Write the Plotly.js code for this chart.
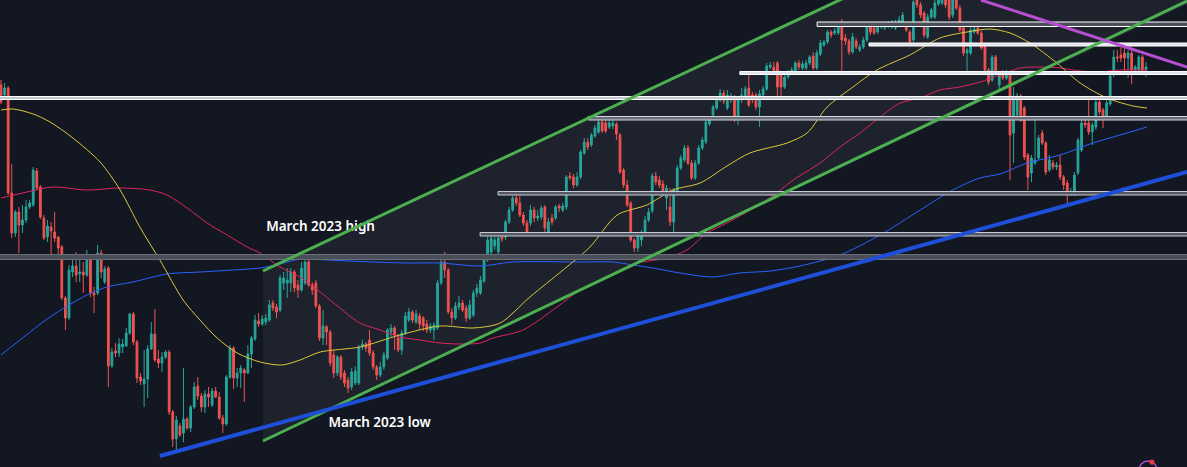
<!DOCTYPE html>
<html><head><meta charset="utf-8">
<script src="https://cdn.plot.ly/plotly-3.0.1.min.js"></script>
<style>html,body{margin:0;padding:0;background:#131722;overflow:hidden}#chart{width:1187px;height:467px}</style>
</head><body><div id="chart"></div>
<script>
// ---- candle data (bar index = position in arrays) ----
const opens = [
385,375,382,277,237,258,245,250,263,265,
299,283,252,233,243,238,233,223,172,152,
198,204,196,198,195,211,177,177,217,188,
202,104,119,117,123,124,137,156,128,93,
86,91,121,136,111,107,113,118,58,31,
44,37,51,42,63,84,74,63,76,65,
79,73,52,46,93,122,92,97,100,97,
116,131,149,146,148,150,167,163,160,187,
187,187,198,185,180,187,208,185,187,164,
132,143,138,115,97,113,97,90,83,87,
87,123,126,130,117,103,95,103,112,138,
142,132,120,137,150,158,148,154,152,146,
140,140,142,187,208,200,158,152,163,167,
162,152,155,177,177,189,210,218,224,218,
233,233,248,260,272,267,255,247,247,260,
252,253,263,238,252,252,264,260,263,294,
293,285,293,317,328,325,334,338,348,347,
343,344,346,335,300,285,267,230,222,230,
236,250,259,294,290,286,272,263,248,277,
302,310,322,307,292,307,322,328,346,355,
362,370,377,362,370,372,352,370,373,382,
375,375,363,375,381,403,403,407,396,383,
393,397,399,407,402,402,407,414,402,416,
425,428,438,437,437,443,432,429,418,429,
420,423,430,443,442,438,443,442,444,443,
442,445,448,445,438,430,470,465,457,433,
453,453,466,467,472,470,455,470,462,442,
417,417,438,442,437,423,400,390,413,385,
398,392,397,337,355,374,362,315,297,307,
312,337,327,300,307,303,305,293,287,276,
275,297,320,347,347,338,343,368,360,354,
366,395,413,415,417,412,417,400,400,413,400];
const highs = [
390,387,384,306,260,263,265,270,270,303,
302,285,255,250,248,258,234,225,174,205,
211,218,210,208,220,213,183,225,220,204,
204,122,127,132,131,142,157,158,130,97,
120,125,148,161,120,118,120,120,60,54,
47,102,53,65,88,93,77,80,83,82,
83,78,55,95,125,124,102,105,102,125,
134,155,157,155,156,170,170,166,195,198,
202,202,200,190,208,211,212,188,190,166,
160,145,140,120,115,115,100,93,102,104,
125,130,128,140,120,105,108,118,142,146,
144,136,140,158,162,160,160,157,154,150,
147,148,190,212,218,202,162,168,174,170,
165,170,180,186,194,213,234,236,236,235,
236,250,263,274,276,274,258,250,265,263,
260,265,265,252,256,265,266,267,295,298,
296,298,320,332,332,337,345,350,352,350,
350,350,348,337,302,290,269,232,238,240,
254,262,297,298,294,290,285,282,282,305,
315,325,325,310,310,325,333,351,352,365,
374,381,380,380,377,375,372,382,384,398,
378,377,380,384,407,408,408,409,398,396,
400,403,409,410,409,410,415,418,420,430,
430,440,440,442,446,451,436,431,437,432,
426,433,446,446,445,446,448,448,449,450,
450,454,458,448,440,472,473,468,459,456,
462,470,473,475,475,473,473,473,465,444,
422,443,443,444,439,425,402,415,415,398,
400,400,399,383,377,376,364,317,315,350,
335,340,329,315,310,308,315,295,290,282,
298,332,350,350,370,348,370,371,362,374,
397,420,420,428,422,420,420,405,415,415,408];
const lows = [
366,373,275,232,233,217,237,247,261,263,
280,251,230,228,215,228,215,170,140,150,
193,188,188,177,193,173,157,175,192,186,
83,102,113,113,117,123,135,125,87,85,
63,72,120,108,102,98,111,55,23,20,
33,28,40,38,61,70,58,57,63,63,
72,50,37,44,91,81,83,82,68,96,
102,129,143,144,145,148,159,152,158,180,
172,178,178,172,178,185,183,175,162,129,
125,125,104,92,94,90,83,77,80,85,
85,120,118,114,100,90,93,100,110,133,
120,118,115,135,148,147,146,140,139,137,
137,130,140,185,192,156,145,150,160,158,
148,150,153,173,175,187,208,215,220,215,
228,230,246,258,264,253,244,234,244,248,
249,250,238,236,245,250,258,258,260,290,
282,283,291,315,320,323,332,336,337,337,
341,341,330,296,282,263,228,218,218,224,
234,248,257,285,282,275,260,244,235,275,
300,308,305,290,290,305,320,326,344,353,
360,368,366,360,367,348,345,367,371,363,
367,360,343,373,379,401,395,373,373,381,
391,395,397,400,400,400,405,400,400,414,
423,426,432,435,435,398,425,415,416,421,
418,421,428,435,435,436,441,440,442,441,
440,443,446,438,425,428,462,452,432,431,
451,451,464,465,462,450,452,460,438,414,
395,415,436,435,420,398,385,388,395,380,
390,390,290,307,353,348,310,280,288,305,
310,325,295,298,300,300,290,280,267,274,
274,295,318,342,335,325,340,355,342,352,
364,393,408,408,395,392,386,398,398,398,393];
const closes = [
368,382,277,237,258,245,250,263,267,300,
282,253,232,244,239,232,222,172,152,200,
204,195,198,195,211,177,175,217,198,201,
104,118,117,126,126,137,156,128,92,89,
91,121,136,110,107,113,118,58,31,50,
35,51,42,63,83,74,63,76,73,79,
73,52,46,93,122,92,97,102,97,116,
132,150,146,151,152,165,162,158,192,192,
190,198,182,180,202,208,185,180,164,132,
144,138,107,97,113,93,87,82,98,99,
123,126,122,117,103,95,103,115,140,142,
135,120,137,154,158,150,156,146,144,140,
144,145,187,208,200,158,152,164,167,160,
152,165,177,182,190,210,230,232,230,232,
231,248,260,272,267,255,247,238,260,252,
254,262,242,248,248,263,262,264,293,292,
285,293,318,328,323,335,342,348,339,339,
347,347,336,298,285,265,230,222,234,236,
250,258,294,288,285,278,282,248,280,302,
312,322,307,292,307,322,330,348,350,363,
370,377,369,375,374,352,370,375,381,365,
370,363,376,381,404,405,397,383,383,393,
397,400,407,403,406,407,413,402,417,427,
428,438,435,439,443,430,429,418,433,423,
423,430,443,438,437,443,445,445,446,447,
447,450,455,440,428,468,465,455,435,453,
460,467,470,472,465,453,470,462,440,417,
420,440,441,437,422,400,388,413,398,395,
392,397,335,374,374,350,313,293,312,310,
332,327,298,310,303,305,293,285,277,278,
295,330,347,345,338,345,368,358,354,367,
394,413,412,412,412,417,400,403,413,400,403];

// ---- moving averages (bar index, price) ----
const maFastBar = [0,3.4,9,13.7,20.1,27.7,33.3,38.8,44.4,50.9,55.6,60.4,66,72.4,78.5,83.6,89.2,100.3,111.5,122.7,131.9,139.5,147.8,157.1,164.6,172.2,180.5,187.8,195.4,202.9,209.3,219.7,225.3,230.9,238.1,244.8,254,262.4,270,276.4,282,287.6,295.1,301.6,309.1,316.4,320.3];
const maFastVal = [360,361,356,348,332,308,280,243,210,170,150,132,117,108,105,110,118,123,135,144,142,147,173,200,223,255,265,280,287,304,317,327,337,363,383,400,415,432,438,441,437,427,407,387,372,364,362];
const maMidBar = [0,7.3,14.5,24,33.3,41.6,46.4,52,57.6,63.2,68.8,72.4,78,83.6,89.2,94.7,100.3,106,111.5,117.1,122.7,128.3,133.9,137.5,145.9,155.4,161.8,167.4,173,177.8,186.1,191.7,197.3,202.9,214.1,221.4,228.9,234.5,240.1,245.7,251.3,256.9,262.4,268,273.6,279.2,284.8,290.4,296,301.6,307.1,312.7,320.3];
const maMidVal = [272,278,283,280,282,280,275,262,247,235,223,217,203,193,178,162,147,140,133,130,127,126,127,132,140,163,180,190,200,207,212,220,237,247,270,290,307,323,337,353,367,372,380,383,388,395,402,403,402,399,398,400,400];
const maSlowBar = [0,5.3,13.7,24,29.6,36.9,46.4,55.6,64.8,72.4,78,83.6,91.1,104,113.5,122.7,133.9,143.1,161.8,171,176.6,182.2,189.8,199,206.5,215,223.3,234.5,245.7,256.9,266,273.6,279.2,286.8,296,305.2,314.7,320.3];
const maSlowVal = [115,130,153,175,183,188,196,198,200,202,206,211,210,208,207,207,204,208,208,208,205,202,197,193,197,199,204,215,235,260,280,292,296,307,315,327,337,343];

// ---- horizontal levels: start bar (-1 = whole chart), low and high price ----
const levelStart = [-1, -1, 133.9, 138.9, 164.1, 206.5, 228.1, 242.6];
const levelLow   = [370.5, 210.5, 234, 275, 350, 395.5, 443.5, 424];
const levelHigh  = [373.5, 215.5, 237.5, 278.5, 353.5, 398.5, 448, 427];

// ---- trend lines [bar0, price0, bar1, price1] ----
const channelTop = [73.2, 199, 260, 513];
const channelBottom = [73.2, 29, 331.5, 469];
const supportLine = [44.4, 14, 331.5, 298];
const resistanceLine = [273.9, 470, 331.5, 403];

// ---- labels ----
const labelText = ['March 2023 high', 'March 2023 low'];
const labelBar = [74.1, 91.5];
const labelPrice = [242, 46];

const bars = opens.map((_, i) => i);
const X0 = -0.28, X1 = 331.47;

const levelStyle = [
  {line:'#ffffff', fill:'#c3c6ce'},
  {line:'#6b6e79', fill:'#4a4e59'},
  {line:'#c8cbd3', fill:'#555864'},
  {line:'#c8cbd3', fill:'#555864'},
  {line:'#d1d4dc', fill:'#6a6d78'},
  {line:'#ffffff', fill:'#e0e3eb'},
  {line:'#ffffff', fill:'#4a4e59'},
  {line:'#ffffff', fill:'#e0e3eb'}
];

const shapes = [];
// channel shading
shapes.push({type:'path', xref:'x', yref:'y', layer:'below',
  path:`M ${channelTop[0]},${channelTop[1]} L ${channelTop[2]},${channelTop[3]} L ${X1+2},${channelTop[3]} L ${X1+2},${channelBottom[3]} L ${channelBottom[0]},${channelBottom[1]} Z`,
  fillcolor:'#1e222d', line:{width:0}});
// levels
levelStart.forEach((s, k) => {
  shapes.push({type:'rect', xref:'x', yref:'y', layer:'above',
    x0: s < 0 ? X0 - 2 : s, x1: X1 + 2, y0: levelLow[k], y1: levelHigh[k],
    fillcolor: levelStyle[k].fill, line:{color: levelStyle[k].line, width:1}});
});
function seg(a, color, w) {
  return {type:'line', xref:'x', yref:'y', layer:'above', x0:a[0], y0:a[1], x1:a[2], y1:a[3], line:{color:color, width:w}};
}
shapes.push(seg(channelTop, '#4caf50', 3));
shapes.push(seg(channelBottom, '#4caf50', 3));
shapes.push(seg(supportLine, '#1e4fd8', 4));
shapes.push(seg(resistanceLine, '#b54fd0', 3));
// corner logo
shapes.push({type:'circle', xref:'paper', yref:'paper', x0:0.9596, x1:0.9747, y0:-0.026, y1:0.0128, line:{color:'#b54fd0', width:1.5}});
shapes.push({type:'circle', xref:'paper', yref:'paper', x0:0.9684, x1:0.9726, y0:0.005, y1:0.016, fillcolor:'#f23645', line:{width:0}});

const traces = [
  {type:'candlestick', x:bars, open:opens, high:highs, low:lows, close:closes,
   increasing:{line:{color:'#26a69a', width:1}, fillcolor:'#26a69a'},
   decreasing:{line:{color:'#ef5350', width:1}, fillcolor:'#ef5350'},
   whiskerwidth:0, hoverinfo:'skip', showlegend:false},
  {type:'scatter', mode:'lines', x:maSlowBar, y:maSlowVal, line:{color:'#2962ff', width:1, shape:'spline', smoothing:0.8}, hoverinfo:'skip', showlegend:false},
  {type:'scatter', mode:'lines', x:maMidBar, y:maMidVal, line:{color:'#e0245e', width:1, shape:'spline', smoothing:0.8}, hoverinfo:'skip', showlegend:false},
  {type:'scatter', mode:'lines', x:maFastBar, y:maFastVal, line:{color:'#dcc83c', width:1, shape:'spline', smoothing:0.8}, hoverinfo:'skip', showlegend:false},
  {type:'scatter', mode:'text', x:labelBar, y:labelPrice, text:labelText, textposition:'middle right',
   textfont:{family:'Noto Sans, Open Sans, sans-serif', size:13.5, color:'#ffffff', weight:600},
   hoverinfo:'skip', showlegend:false, cliponaxis:false}
];

const layout = {
  width:1187, height:467, margin:{l:0, r:0, t:0, b:0, pad:0},
  paper_bgcolor:'#131722', plot_bgcolor:'#131722',
  showlegend:false,
  xaxis:{range:[X0, X1], visible:false, rangeslider:{visible:false}, fixedrange:true},
  yaxis:{range:[3, 470], visible:false, fixedrange:true},
  shapes:shapes
};

Plotly.newPlot('chart', traces, layout, {staticPlot:true, displayModeBar:false});
</script></body></html>
